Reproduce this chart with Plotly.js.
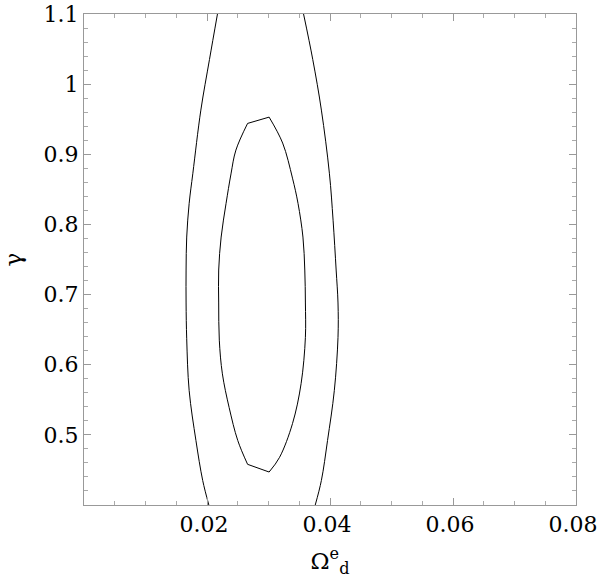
<!DOCTYPE html>
<html>
<head>
<meta charset="utf-8">
<script src="https://cdn.plot.ly/plotly-3.0.1.min.js"></script>
<style>
  html, body { margin: 0; padding: 0; background: #fff; }
  #chart { width: 600px; height: 584px; }
</style>
</head>
<body>
<div id="chart"></div>
<script>
// Contour lines (Omega_d^e, gamma)
const outerLeftX  = [0.0217, 0.0204, 0.0190, 0.0177, 0.0171, 0.0167, 0.0166, 0.0166, 0.0167, 0.0171, 0.0182, 0.0193, 0.0203];
const outerLeftY  = [1.100, 1.035, 0.963, 0.873, 0.830, 0.782, 0.735, 0.688, 0.637, 0.563, 0.492, 0.435, 0.400];
const outerRightX = [0.0357, 0.0372, 0.0386, 0.0399, 0.0405, 0.0410, 0.0413, 0.0413, 0.0407, 0.0396, 0.0386, 0.0376];
const outerRightY = [1.100, 1.035, 0.963, 0.873, 0.806, 0.735, 0.688, 0.639, 0.563, 0.492, 0.435, 0.400];
// inner contour: top-left corner, right arc, bottom corners, left arc, back to start
const innerX = [0.0266, 0.0301, 0.0323, 0.0339, 0.0348, 0.0356, 0.0359, 0.0360, 0.0360, 0.0353, 0.0339, 0.0318,
                0.0301, 0.0266, 0.0250, 0.0236, 0.0225, 0.0220, 0.0219, 0.0219, 0.0223, 0.0231, 0.0239, 0.0247, 0.0266];
const innerY = [0.944, 0.953, 0.916, 0.866, 0.830, 0.782, 0.735, 0.688, 0.639, 0.573, 0.516, 0.468,
                0.447, 0.458, 0.492, 0.539, 0.587, 0.635, 0.688, 0.735, 0.782, 0.830, 0.872, 0.906, 0.944];

const xTickVals = [0.02, 0.04, 0.06, 0.08];
const xTickText = ['0.02', '0.04', '0.06', '0.08'];
const yTickVals = [0.5, 0.6, 0.7, 0.8, 0.9, 1.0, 1.1];
const yTickText = ['0.5', '0.6', '0.7', '0.8', '0.9', '1', '1.1'];

// only DejaVu Serif comes out as a serif face here
const serif = 'DejaVu Serif';

function curve(x, y, shape) {
    return {
        x: x, y: y, type: 'scatter', mode: 'lines',
        line: { color: '#000000', width: 1, shape: shape, smoothing: 1 },
        hoverinfo: 'skip', showlegend: false
    };
}

// the inner contour has two kinks (top and bottom), so the arcs are smoothed and the joins kept straight
const traces = [
    curve(outerLeftX, outerLeftY, 'spline'),
    curve(outerRightX, outerRightY, 'spline'),
    curve(innerX.slice(1, 13), innerY.slice(1, 13), 'spline'),
    curve(innerX.slice(13, 25), innerY.slice(13, 25), 'spline'),
    curve(innerX.slice(0, 2), innerY.slice(0, 2), 'linear'),
    curve(innerX.slice(12, 14), innerY.slice(12, 14), 'linear')
];

const axisCommon = {
    showgrid: false,
    zeroline: false,
    showline: true,
    linecolor: '#999999',
    linewidth: 1,
    mirror: 'allticks',
    ticks: 'inside',
    ticklen: 7,
    tickcolor: '#999999',
    ticklabeloverflow: 'allow',
    tickfont: { family: serif, size: 22, color: '#000000' }
};

const layout = {
    width: 600,
    height: 584,
    margin: { l: 84, r: 24, t: 14, b: 79 },
    paper_bgcolor: '#ffffff',
    plot_bgcolor: '#ffffff',
    font: { family: serif, color: '#000000' },
    xaxis: Object.assign({}, axisCommon, {
        range: [0, 0.08],
        tickmode: 'array',
        tickvals: xTickVals,
        ticktext: xTickText,
        ticklabelshift: -3,
        minor: { dtick: 0.005, tick0: 0, ticks: 'inside', ticklen: 4, tickcolor: '#aaaaaa' },
        title: { text: 'Ω<sup>e</sup><sub>d</sub>', font: { family: serif, size: 23 }, standoff: 16 }
    }),
    yaxis: Object.assign({}, axisCommon, {
        range: [0.4, 1.1],
        tickmode: 'array',
        tickvals: yTickVals,
        ticktext: yTickText,
        minor: { dtick: 0.02, tick0: 0.4, ticks: 'inside', ticklen: 4, tickcolor: '#aaaaaa' },
        title: { text: 'γ', font: { family: serif, size: 23 }, standoff: 16 }
    })
};

Plotly.newPlot('chart', traces, layout, { displayModeBar: false, staticPlot: true });
</script>
</body>
</html>
